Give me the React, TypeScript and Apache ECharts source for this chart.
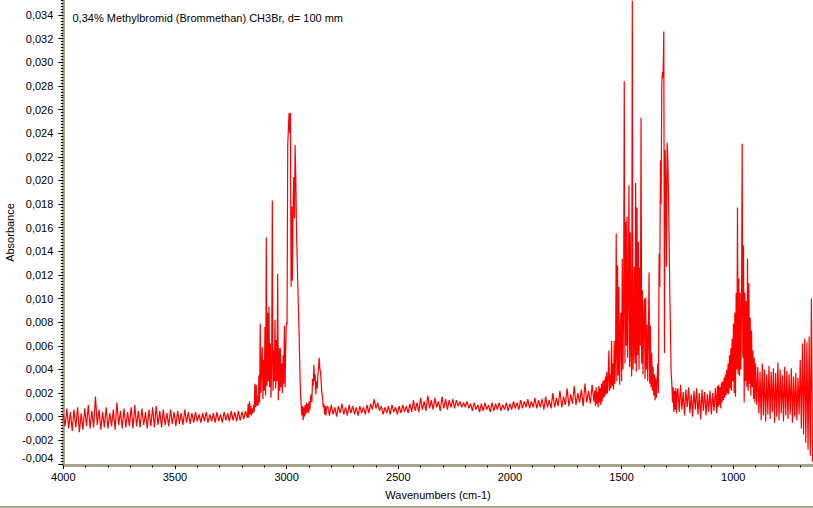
import React, { useEffect, useRef } from "react";
import * as echarts from "echarts";

// Spectrum values (absorbance), segment by segment, each with start wavenumber and step (cm-1)
const seg1Start = 4000, seg1Step = 8;
const seg1 = [
  0.0002, -0.0008, 0.0007, -0.0010, 0.0004, -0.0012, 0.0006, -0.0009, 0.0008, -0.0013,
  0.0003, -0.0011, 0.0007, -0.0008, 0.0010, -0.0010, 0.0005, -0.0009, 0.0017, -0.0007,
  0.0006, -0.0011, 0.0004, -0.0009, 0.0008, -0.0010, 0.0003, -0.0008, 0.0006, -0.0011,
  0.0012, -0.0007, 0.0005, -0.0010, 0.0007, -0.0009, 0.0004, -0.0008, 0.0008, -0.0010,
  0.0010, -0.0008, 0.0005, -0.0009, 0.0007, -0.0007, 0.0004, -0.0010, 0.0006, -0.0008,
  0.0008, -0.0009, 0.0009, -0.0007, 0.0005, -0.0009, 0.0006, -0.0007, 0.0003, -0.0008,
  0.0006, -0.0006, 0.0004, -0.0008, 0.0005, -0.0006, 0.0003, -0.0007, 0.0006, -0.0005,
  0.0004, -0.0006, 0.0003, -0.0005, 0.0004, -0.0004, 0.0002, -0.0005, 0.0003, -0.0004,
  0.0004, -0.0005, 0.0002, -0.0004, 0.0003, -0.0005, 0.0004, -0.0004, 0.0002, -0.0005,
  0.0004, -0.0003, 0.0003, -0.0004, 0.0005, -0.0003, 0.0004, -0.0004, 0.0005, -0.0003,
  0.0004, -0.0002, 0.0005, -0.0001,
];

const seg2Start = 3172, seg2Step = 3;
const seg2 = [
  0.0011, -0.0001, 0.0013, 0.0002, 0.0009, 0.0001, 0.0007, 0.0003, 0.0010, 0.0004,
  0.0028, 0.0008, 0.0027, 0.0009, 0.0018, 0.0010, 0.0035, 0.0012, 0.0079, 0.0020,
  0.0042, 0.0059, 0.0015, 0.0048, 0.0022, 0.0076, 0.0018, 0.0152, 0.0026, 0.0088,
  0.0030, 0.0093, 0.0025, 0.0062, 0.0016, 0.0045, 0.0183, 0.0022, 0.0056, 0.0030,
  0.0082, 0.0024, 0.0065, 0.0030, 0.0121, 0.0014, 0.0058, 0.0022, 0.0058, 0.0025,
  0.0045, 0.0020, 0.0052, 0.0028, 0.0077, 0.0025, 0.0060, 0.0080, 0.0078, 0.0230,
  0.0230, 0.0257, 0.0240, 0.0257, 0.0110, 0.0178, 0.0115, 0.0175, 0.0203, 0.0168,
  0.0230, 0.0203, 0.0160, 0.0135, 0.0113, 0.0090, 0.0071, 0.0042, 0.0020, 0.0011,
  0.0001, 0.0009, -0.0003, 0.0008, 0.0000, 0.0010, 0.0002, 0.0012, 0.0004, 0.0011,
  0.0003, 0.0013, 0.0006, 0.0016, 0.0019, 0.0012, 0.0032, 0.0026, 0.0044, 0.0030,
  0.0036, 0.0019, 0.0030, 0.0024, 0.0035, 0.0042, 0.0050, 0.0040, 0.0038, 0.0028,
  0.0020, 0.0016, 0.0008, 0.0011, 0.0002, 0.0009, 0.0001, 0.0008,
];

const seg3Start = 2816, seg3Step = 8;
const seg3 = [
  0.0009, 0.0001, 0.0010, 0.0002, 0.0008, 0.0000, 0.0009, 0.0003, 0.0011, 0.0002,
  0.0008, 0.0001, 0.0010, 0.0003, 0.0009, 0.0002, 0.0008, 0.0001, 0.0009, 0.0003,
  0.0008, 0.0002, 0.0010, 0.0003, 0.0011, 0.0006, 0.0015, 0.0007, 0.0012, 0.0005,
  0.0009, 0.0002, 0.0008, 0.0003, 0.0009, 0.0002, 0.0010, 0.0004, 0.0008, 0.0002,
  0.0009, 0.0003, 0.0010, 0.0004, 0.0009, 0.0003, 0.0011, 0.0004, 0.0014, 0.0005,
  0.0012, 0.0004, 0.0016, 0.0006, 0.0013, 0.0005, 0.0018, 0.0007, 0.0014, 0.0006,
  0.0016, 0.0008, 0.0013, 0.0005, 0.0017, 0.0007, 0.0015, 0.0006, 0.0014, 0.0008,
  0.0015, 0.0007, 0.0014, 0.0009, 0.0013, 0.0008, 0.0012, 0.0008, 0.0013, 0.0007,
  0.0011, 0.0005, 0.0012, 0.0006, 0.0010, 0.0004, 0.0011, 0.0005, 0.0012, 0.0006,
  0.0010, 0.0004, 0.0012, 0.0005, 0.0011, 0.0006, 0.0012, 0.0005, 0.0010, 0.0006,
  0.0012, 0.0005, 0.0011, 0.0006, 0.0013, 0.0007, 0.0012, 0.0006, 0.0014, 0.0007,
  0.0013, 0.0008, 0.0015, 0.0007, 0.0013, 0.0008, 0.0016, 0.0007, 0.0014, 0.0008,
  0.0015, 0.0006, 0.0017, 0.0008, 0.0014, 0.0007, 0.0020, 0.0008, 0.0016, 0.0009,
  0.0022, 0.0008, 0.0017, 0.0010, 0.0024, 0.0009, 0.0019, 0.0011, 0.0026, 0.0010,
  0.0020, 0.0012, 0.0023, 0.0009, 0.0028, 0.0012, 0.0022, 0.0011, 0.0027, 0.0013,
];

const seg4Start = 1620, seg4Step = 3;
const seg4 = [
  0.0022, 0.0009, 0.0025, 0.0011, 0.0021, 0.0008, 0.0026, 0.0012, 0.0024, 0.0010,
  0.0028, 0.0013, 0.0030, 0.0016, 0.0031, 0.0017, 0.0034, 0.0019, 0.0038, 0.0020,
  0.0032, 0.0056, 0.0022, 0.0036, 0.0024, 0.0064, 0.0026, 0.0045, 0.0023, 0.0064,
  0.0028, 0.0050, 0.0155, 0.0030, 0.0128, 0.0035, 0.0110, 0.0027, 0.0072, 0.0088,
  0.0030, 0.0134, 0.0040, 0.0088, 0.0284, 0.0045, 0.0165, 0.0060, 0.0169, 0.0050,
  0.0107, 0.0196, 0.0042, 0.0156, 0.0054, 0.0034, 0.0352, 0.0040, 0.0056, 0.0127,
  0.0045, 0.0198, 0.0038, 0.0177, 0.0052, 0.0148, 0.0040, 0.0126, 0.0060, 0.0253,
  0.0045, 0.0107, 0.0036, 0.0085, 0.0100, 0.0032, 0.0101, 0.0040, 0.0078, 0.0030,
  0.0068, 0.0122, 0.0028, 0.0077, 0.0025, 0.0054, 0.0022, 0.0042, 0.0018, 0.0036,
  0.0014, 0.0033, 0.0016, 0.0030, 0.0045, 0.0020, 0.0138, 0.0110, 0.0217, 0.0180,
  0.0282, 0.0292, 0.0287, 0.0326, 0.0054, 0.0226, 0.0198, 0.0127, 0.0232, 0.0219,
  0.0189, 0.0148, 0.0104, 0.0073, 0.0037, 0.0028, 0.0012, 0.0025, 0.0004, 0.0022,
  0.0006, 0.0024, 0.0003, 0.0020,
];

const seg5Start = 1248, seg5Step = 6;
const seg5 = [
  0.0024, 0.0004, 0.0027, 0.0006, 0.0021, 0.0001, 0.0023, 0.0008, 0.0025, 0.0003,
  0.0019, 0.0000, 0.0022, 0.0006, 0.0024, 0.0002, 0.0020, -0.0002, 0.0023, 0.0005,
  0.0021, 0.0001, 0.0019, 0.0004, 0.0022, 0.0002, 0.0020, 0.0005, 0.0024, 0.0003,
];

const seg6Start = 1071, seg6Step = 3;
const seg6 = [
  0.0026, 0.0008, 0.0027, 0.0010, 0.0025, 0.0007, 0.0029, 0.0012, 0.0030, 0.0014,
  0.0033, 0.0016, 0.0036, 0.0018, 0.0040, 0.0020, 0.0045, 0.0019, 0.0052, 0.0024,
  0.0058, 0.0022, 0.0066, 0.0030, 0.0079, 0.0020, 0.0088, 0.0017, 0.0105, 0.0040,
  0.0177, 0.0036, 0.0117, 0.0034, 0.0105, 0.0040, 0.0088, 0.0231, 0.0050, 0.0145,
  0.0012, 0.0105, 0.0030, 0.0098, 0.0025, 0.0134, 0.0022, 0.0113, 0.0028, 0.0084,
  0.0018, 0.0073, 0.0025, 0.0056, 0.0015, 0.0050, 0.0012, 0.0045,
];

const seg7Start = 895, seg7Step = 5;
const seg7 = [
  0.0010, 0.0042, 0.0003, 0.0038, -0.0003, 0.0045, 0.0001, 0.0040, -0.0004, 0.0036,
  0.0002, 0.0043, -0.0002, 0.0038, 0.0004, 0.0041, -0.0005, 0.0037, 0.0000, 0.0046,
  -0.0003, 0.0040, 0.0003, 0.0035, -0.0004, 0.0042, 0.0001, 0.0039, -0.0002, 0.0036,
  0.0002, 0.0041, -0.0005, 0.0034, 0.0000, 0.0037, -0.0003, 0.0033, 0.0002, 0.0048,
  -0.0010, 0.0062, -0.0015, 0.0066, -0.0022, 0.0063, -0.0028, 0.0068, -0.0033, 0.0100,
  -0.0038,
];

const titleText = "0,34% Methylbromid (Brommethan) CH3Br, d= 100 mm";
const xAxisName = "Wavenumbers (cm-1)";
const yAxisName = "Absorbance";
const xMin = 500, xMax = 4000, xInterval = 500;
const yMin = -0.004, yMax = 0.036, yInterval = 0.002;

const AXIS_COLOR = "#a8a48c";
const FONT = "Liberation Sans, Arial, sans-serif";

function seg(start: number, step: number, vals: number[]) {
  return vals.map((v, i) => [start - step * i, v]);
}

export default function App() {
  const ref = useRef<HTMLDivElement>(null);
  useEffect(() => {
    document.body.style.margin = "0";
    const chart = echarts.init(ref.current!, null, { renderer: "svg" });
    const data = [
      ...seg(seg1Start, seg1Step, seg1),
      ...seg(seg2Start, seg2Step, seg2),
      ...seg(seg3Start, seg3Step, seg3),
      ...seg(seg4Start, seg4Step, seg4),
      ...seg(seg5Start, seg5Step, seg5),
      ...seg(seg6Start, seg6Step, seg6),
      ...seg(seg7Start, seg7Step, seg7),
    ];
    const fmtY = (v: number) => {
      const val = Math.abs(v) < 1e-9 ? 0 : v;
      const s = val.toFixed(3).replace(".", ",");
      return val < -0.0035 ? `{lo|${s}}` : s;
    };
    chart.setOption({
      animation: false,
      backgroundColor: "#ffffff",
      textStyle: { fontFamily: FONT },
      grid: { left: 63.3, right: -31.9, top: -8.6, bottom: 44, containLabel: false, outerBoundsMode: "none" },
      xAxis: {
        type: "value",
        inverse: true,
        min: xMin,
        max: xMax,
        interval: xInterval,
        offset: 1.5,
        axisLine: { onZero: false, lineStyle: { color: AXIS_COLOR, width: 3 } },
        axisTick: { length: 3.5, lineStyle: { color: "#000", width: 1 } },
        minorTick: { show: true, splitNumber: 5, length: 2, lineStyle: { color: "#000", width: 1 } },
        splitLine: { show: false },
        minorSplitLine: { show: false },
        axisLabel: {
          margin: 6,
          color: "#000",
          fontSize: 11,
          fontFamily: FONT,
          showMinLabel: false,
          formatter: (v: number) => String(Math.round(v)),
        },
      },
      yAxis: {
        type: "value",
        min: yMin,
        max: yMax,
        interval: yInterval,
        axisLine: { onZero: false, lineStyle: { color: AXIS_COLOR, width: 3 } },
        axisTick: { length: 5, lineStyle: { color: "#000", width: 1 } },
        minorTick: { show: true, splitNumber: 8, length: 2.5, lineStyle: { color: "#000", width: 1 } },
        splitLine: { show: false },
        minorSplitLine: { show: false },
        axisLabel: {
          margin: 10,
          color: "#000",
          fontSize: 11,
          fontFamily: FONT,
          showMaxLabel: false,
          formatter: fmtY,
          rich: { lo: { padding: [0, 0, 12, 0], color: "#000", fontSize: 11, fontFamily: FONT } },
        },
      },
      graphic: [
        {
          type: "text",
          x: 72.5,
          y: 17.5,
          style: { text: titleText, fill: "#000", fontSize: 11, fontFamily: FONT, align: "left", verticalAlign: "middle" },
        },
        {
          type: "text",
          x: 438,
          y: 495,
          style: { text: xAxisName, fill: "#000", fontSize: 11, fontFamily: FONT, align: "center", verticalAlign: "middle" },
        },
        {
          type: "text",
          x: 9.5,
          y: 232.5,
          rotation: Math.PI / 2,
          style: { text: yAxisName, fill: "#000", fontSize: 11, fontFamily: FONT, align: "center", verticalAlign: "middle" },
        },
        {
          type: "line",
          shape: { x1: 0, y1: 507, x2: 813, y2: 507 },
          style: { stroke: AXIS_COLOR, lineWidth: 2 },
        },
      ],
      series: [
        {
          type: "line",
          data,
          symbol: "none",
          showSymbol: false,
          silent: true,
          lineStyle: { color: "#ff0000", width: 1.2 },
          clip: true,
        },
      ],
    });
    return () => chart.dispose();
  }, []);
  return <div ref={ref} style={{ width: 813, height: 508 }} />;
}
